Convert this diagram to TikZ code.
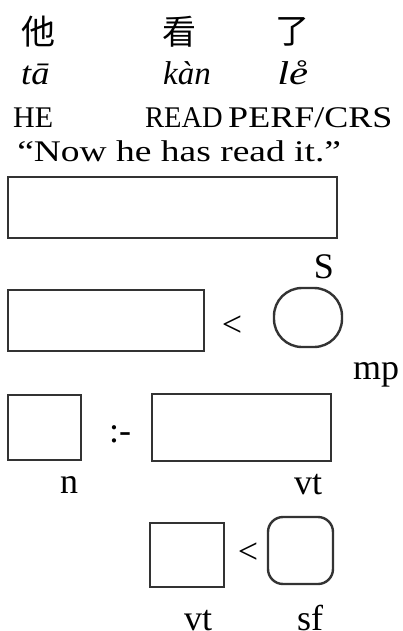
\documentclass[tikz,border=0pt]{standalone}
\usepackage{fontspec}
\setmainfont{Liberation Serif}
\newfontfamily\cjk{Noto Sans CJK SC}
\begin{document}
\begin{tikzpicture}[x=1pt,y=-1pt,
  box/.style={draw=black!80, line width=2.4pt, inner sep=0pt, outer sep=0pt},
  roundbox/.style={box, rounded corners=#1},
  hanzi/.style={anchor=center, inner sep=0pt, font=\cjk\fontsize{34}{40}\selectfont},
  gloss/.style={anchor=base west, inner sep=0pt, font=\fontsize{30}{36}\selectfont},
  pinyin/.style={gloss, font=\fontsize{33}{38}\selectfont\itshape},
  tag/.style={anchor=base, inner sep=0pt, font=\fontsize{36}{40}\selectfont},
  op/.style={anchor=center, inner sep=0pt, font=\fontsize{36}{40}\selectfont}]
\useasboundingbox (0,0) rectangle (403,631);

% example sentence: characters, pinyin, glosses, translation
\node[hanzi] (c1) at (38,32) {他};
\node[hanzi] (c2) at (179,32) {看};
\node[hanzi] (c3) at (292,32) {了};
\node[pinyin, xscale=1.1] (p1) at (21,85) {tā};
\node[pinyin, xscale=1.0] (p2) at (163,85) {kàn};
\node[pinyin, xscale=1.3] (p3) at (277,85) {le̊};
\node[gloss, xscale=1.0] (g1) at (13,128) {HE};
\node[gloss, xscale=0.95] (g2) at (145,128) {READ};
\node[gloss, xscale=1.2] (g3) at (228,128) {PERF/CRS};
\node[gloss, xscale=1.25] (tr) at (17,162) {“Now he has read it.”};

% box structure
\node[box, minimum width=329pt, minimum height=61pt] (s) at (172.5,207.5) {};
\node[tag] (lS) at (324,278) {S};
\node[box, minimum width=196pt, minimum height=61pt] (b2) at (106,320.5) {};
\node[op] (lt1) at (232,326) {<};
\node[roundbox=28pt, minimum width=68pt, minimum height=59pt] (mp) at (308,317.5) {};
\node[tag] (lmp) at (376,379) {mp};
\node[box, minimum width=73pt, minimum height=65pt] (n) at (44.5,427.5) {};
\node[op] (cd) at (120,434) {:-};
\node[box, minimum width=179pt, minimum height=67pt] (vt) at (241.5,427.5) {};
\node[tag] (ln) at (69,493) {n};
\node[tag] (lvt) at (308,494) {vt};
\node[box, minimum width=74pt, minimum height=64pt] (v) at (187,555) {};
\node[op] (lt2) at (248,553) {<};
\node[roundbox=15pt, minimum width=65pt, minimum height=67pt] (sf) at (300.5,550.5) {};
\node[tag] (lv) at (198,630) {vt};
\node[tag] (lsf) at (310,630) {sf};
\end{tikzpicture}
\end{document}
